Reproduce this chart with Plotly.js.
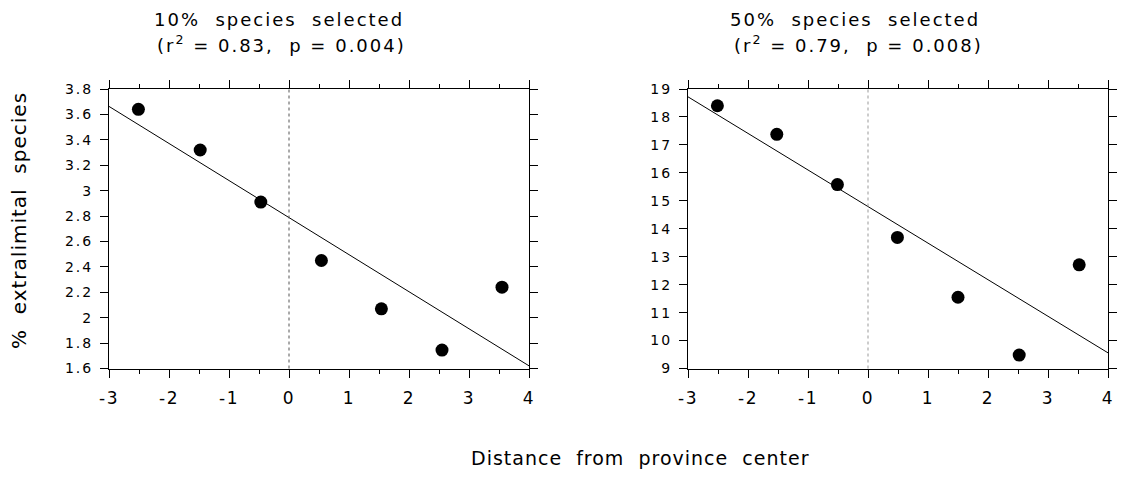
<!DOCTYPE html>
<html>
<head>
<meta charset="utf-8">
<script src="https://cdn.plot.ly/plotly-3.0.1.min.js"></script>
<style>
  html, body { margin: 0; padding: 0; background: #fff; }
  #chart { width: 1121px; height: 483px; }
  .annotation-text { letter-spacing: 2px; }
  .annotation[data-index="4"] .annotation-text { letter-spacing: 1px; }
  .annotation[data-index="5"] .annotation-text { letter-spacing: 1px; }
  .ytick text, .y2tick text { letter-spacing: 2px; }
  .xtick text, .x2tick text { letter-spacing: 1.5px; }
</style>
</head>
<body>
<div id="chart"></div>
<script>
// ---- data ----
const distLeft  = [-2.51, -1.48, -0.47, 0.54, 1.54, 2.55, 3.55];
const pct10     = [3.64, 3.32, 2.91, 2.45, 2.07, 1.745, 2.24];
const distRight = [-2.51, -1.52, -0.51, 0.49, 1.50, 2.52, 3.52];
const pct50     = [18.40, 17.38, 15.58, 13.69, 11.55, 9.48, 12.71];
const fitX      = [-3, 4];
const fit10     = [3.663, 1.621];
const fit50     = [18.72, 9.56];
const xTickVals = [-3, -2, -1, 0, 1, 2, 3, 4];
const xTickText = ['-3', '-2', '-1', '0', '1', '2', '3', '4'];
const title10a  = '10%\u00a0\u00a0species\u00a0\u00a0selected';
const title10b  = '(r<sup>2</sup> = 0.83,\u00a0 p = 0.004)';
const title50a  = '50%\u00a0\u00a0species\u00a0\u00a0selected';
const title50b  = '(r<sup>2</sup> = 0.79,\u00a0 p = 0.008)';
const yTitle    = '%\u00a0\u00a0extralimital\u00a0\u00a0species';
const xTitle    = 'Distance\u00a0\u00a0from\u00a0\u00a0province\u00a0\u00a0center';

const W = 1121, H = 483;
const px = v => v / W;
const py = v => 1 - v / H;
const FONT = 'DejaVu Sans, Liberation Sans, Arial, sans-serif';

const traces = [
  { x: fitX, y: fit10, xaxis: 'x', yaxis: 'y', mode: 'lines',
    line: { color: '#000', width: 1 }, hoverinfo: 'skip', showlegend: false },
  { x: distLeft, y: pct10, xaxis: 'x', yaxis: 'y', mode: 'markers',
    marker: { color: '#000', size: 13 }, showlegend: false },
  { x: fitX, y: fit50, xaxis: 'x2', yaxis: 'y2', mode: 'lines',
    line: { color: '#000', width: 1 }, hoverinfo: 'skip', showlegend: false },
  { x: distRight, y: pct50, xaxis: 'x2', yaxis: 'y2', mode: 'markers',
    marker: { color: '#000', size: 13 }, showlegend: false }
];

function xAxis(domain, anchor) {
  return {
    domain: domain, anchor: anchor, range: [-3, 4],
    tickmode: 'array', tickvals: xTickVals, ticktext: xTickText,
    ticks: 'outside', ticklen: 8, tickwidth: 1, tickcolor: '#000',
    minor: { dtick: 0.5, tick0: 0, ticks: 'outside', ticklen: 4, tickwidth: 1, tickcolor: '#000', showgrid: false },
    showline: true, linecolor: '#000', linewidth: 1, mirror: 'allticks',
    showgrid: false, zeroline: false,
    tickfont: { family: FONT, size: 17, color: '#000' },
    ticklabelstandoff: 6, fixedrange: true
  };
}
function yAxis(domain, anchor, range, dtick) {
  return {
    domain: domain, anchor: anchor, range: range,
    tick0: range[0], dtick: dtick,
    ticks: 'outside', ticklen: 8, tickwidth: 1, tickcolor: '#000',
    showline: true, linecolor: '#000', linewidth: 1, mirror: 'allticks',
    showgrid: false, zeroline: false,
    tickfont: { family: FONT, size: 14, color: '#000' },
    ticklabelstandoff: 4, fixedrange: true
  };
}

const yDom = [py(368.5), py(89)];

const layout = {
  width: W, height: H,
  margin: { l: 0, r: 0, t: 0, b: 0 },
  paper_bgcolor: '#fff', plot_bgcolor: '#fff',
  showlegend: false,
  xaxis:  xAxis([px(109), px(529)], 'y'),
  yaxis:  yAxis(yDom, 'x', [1.6, 3.8], 0.2),
  xaxis2: xAxis([px(688), px(1108)], 'y2'),
  yaxis2: yAxis(yDom, 'x2', [9, 19], 1),
  shapes: [
    { type: 'line', xref: 'x', yref: 'y domain', x0: 0, x1: 0, y0: 0, y1: 1,
      line: { color: '#555', width: 1, dash: 'dot' } },
    { type: 'line', xref: 'x2', yref: 'y2 domain', x0: 0, x1: 0, y0: 0, y1: 1,
      line: { color: '#999', width: 1, dash: 'dot' } }
  ],
  annotations: [
    { text: title10a, xref: 'paper', yref: 'paper', x: px(279), y: py(19),
      xanchor: 'center', yanchor: 'middle', showarrow: false,
      font: { family: FONT, size: 18, color: '#000' } },
    { text: title10b, xref: 'paper', yref: 'paper', x: px(281), y: py(44),
      xanchor: 'center', yanchor: 'middle', showarrow: false,
      font: { family: FONT, size: 18, color: '#000' } },
    { text: title50a, xref: 'paper', yref: 'paper', x: px(855), y: py(19),
      xanchor: 'center', yanchor: 'middle', showarrow: false,
      font: { family: FONT, size: 18, color: '#000' } },
    { text: title50b, xref: 'paper', yref: 'paper', x: px(858), y: py(44),
      xanchor: 'center', yanchor: 'middle', showarrow: false,
      font: { family: FONT, size: 18, color: '#000' } },
    { text: yTitle, xref: 'paper', yref: 'paper', x: px(19), y: py(221),
      xanchor: 'center', yanchor: 'middle', textangle: -90, showarrow: false,
      font: { family: FONT, size: 20, color: '#000' } },
    { text: xTitle, xref: 'paper', yref: 'paper', x: px(640), y: py(458),
      xanchor: 'center', yanchor: 'middle', showarrow: false,
      font: { family: FONT, size: 19, color: '#000' } }
  ]
};

Plotly.newPlot('chart', traces, layout, { displayModeBar: false, staticPlot: true });
</script>
</body>
</html>
